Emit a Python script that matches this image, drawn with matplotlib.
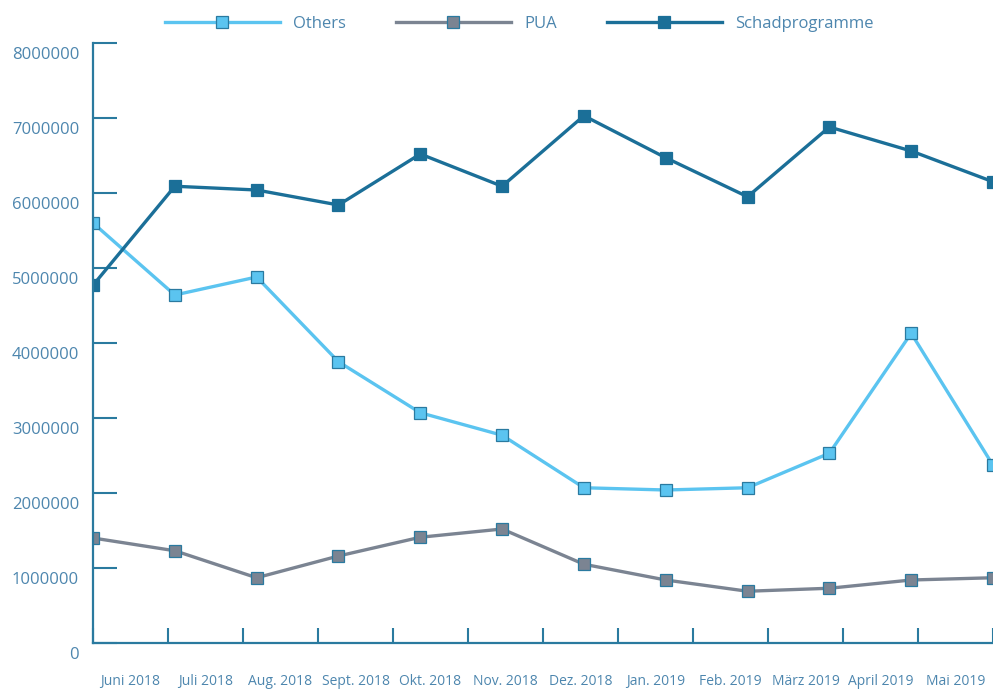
import matplotlib
matplotlib.use("Agg")
import matplotlib.pyplot as plt
from matplotlib.transforms import ScaledTranslation
import numpy as np

months = ["Juni 2018", "Juli 2018", "Aug. 2018", "Sept. 2018", "Okt. 2018", "Nov. 2018",
          "Dez. 2018", "Jan. 2019", "Feb. 2019", "März 2019", "April 2019", "Mai 2019"]
others = [5600000, 4640000, 4880000, 3750000, 3070000, 2770000,
          2070000, 2040000, 2070000, 2530000, 4130000, 2370000]
pua = [1400000, 1230000, 870000, 1160000, 1410000, 1520000,
       1050000, 840000, 690000, 730000, 840000, 870000]
schad = [4770000, 6090000, 6040000, 5840000, 6520000, 6090000,
         7030000, 6470000, 5950000, 6880000, 6560000, 6150000]
yticks = [0, 1000000, 2000000, 3000000, 4000000, 5000000, 6000000, 7000000, 8000000]

plt.rcParams['font.family'] = ['Open Sans', 'DejaVu Sans']

axis_col = "#2a7a9f"
text_col = "#4d86ae"
c_others = "#5bc4f0"
c_pua = "#7b8492"
c_schad = "#1b6f98"

W, H = 993, 689
fig = plt.figure(figsize=(W / 100, H / 100), dpi=100)
ax = fig.add_axes([93 / W, (H - 643) / H, 1 - 93 / W, (643 - 43) / H])

x = np.arange(len(months))
ax.plot(x, others, color=c_others, lw=2.4, marker="s", ms=8, mfc=c_others,
        mec="#2a7aa0", mew=0.9, label="Others")
ax.plot(x, pua, color=c_pua, lw=2.4, marker="s", ms=8, mfc=c_pua,
        mec="#2a7aa0", mew=0.9, label="PUA")
ax.plot(x, schad, color=c_schad, lw=2.4, marker="s", ms=8, mfc=c_schad,
        mec=c_schad, mew=0.9, label="Schadprogramme")

n = len(months)
ax.set_xlim(0, n - 1)
ax.set_ylim(0, 8000000)
span = (n - 1) / n
ax.set_xticks([i * span for i in range(n + 1)])
ax.set_xticks([(i + 0.5) * span for i in range(n)], minor=True)
ax.set_xticklabels([])
ax.set_xticklabels(months, minor=True)
ax.tick_params(axis="x", which="major", direction="in", length=11, width=1.5, color=axis_col)
ax.tick_params(axis="x", which="minor", length=0, pad=22, labelsize=10, labelcolor=text_col)

ax.set_yticks(yticks)
ax.set_yticklabels([str(v) for v in yticks])
ax.tick_params(axis="y", direction="in", length=17, width=1.5, color=axis_col,
               labelsize=12, labelcolor=text_col, pad=10)
for lab in ax.get_yticklabels():
    lab.set_transform(lab.get_transform() + ScaledTranslation(0, -7 / 72, fig.dpi_scale_trans))

for s in ["top", "right"]:
    ax.spines[s].set_visible(False)
for s in ["left", "bottom"]:
    ax.spines[s].set_color(axis_col)
    ax.spines[s].set_linewidth(1.6)

leg = ax.legend(loc="lower left", bbox_to_anchor=(65 / 900, 1.008), ncol=3, frameon=False,
                handlelength=6.9, numpoints=1, fontsize=12, handletextpad=0.8,
                columnspacing=3.0, borderaxespad=0)
for t in leg.get_texts():
    t.set_color(text_col)

fig.savefig("out.png", dpi=100)
